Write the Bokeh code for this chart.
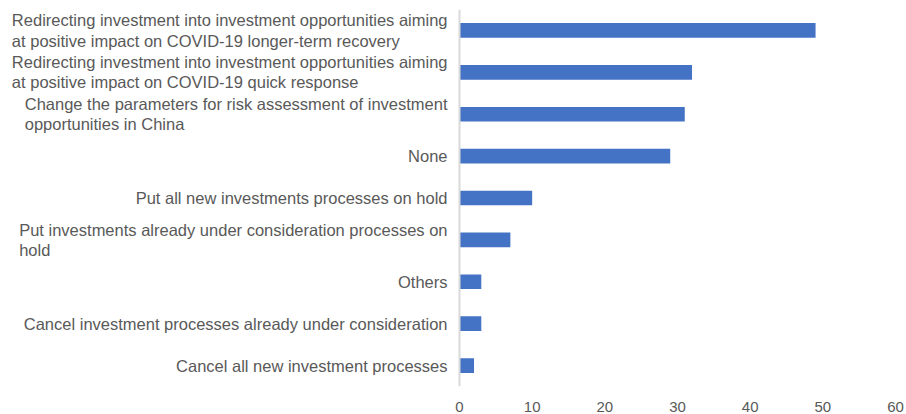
from bokeh.plotting import figure
from bokeh.models import ColumnDataSource, FixedTicker, Label, Span
from bokeh.embed import file_html
from bokeh.resources import INLINE

categories = [
    "Redirecting investment into investment opportunities aiming\nat positive impact on COVID-19 longer-term recovery",
    "Redirecting investment into investment opportunities aiming\nat positive impact on COVID-19 quick response",
    "Change the parameters for risk assessment of investment\nopportunities in China",
    "None",
    "Put all new investments processes on hold",
    "Put investments already under consideration processes on\nhold",
    "Others",
    "Cancel investment processes already under consideration",
    "Cancel all new investment processes",
]
values = [49, 32, 31, 29, 10, 7, 3, 3, 2]
x_ticks = [0, 10, 20, 30, 40, 50, 60]

source = ColumnDataSource(data=dict(cat=categories, val=values))

# the frame also holds the category labels on its left, so the x range
# starts below zero (0 falls at 459 px of an 895 px wide frame)
x_max = 60
x_min = -459 * x_max / (895 - 459)

p = figure(
    y_range=list(reversed(categories)),
    x_range=(x_min, x_max),
    width=906, height=414,
    output_backend="svg", toolbar_location=None,
    min_border_left=0, min_border_right=11, min_border_top=9, min_border_bottom=0,
)
p.hbar(y="cat", right="val", left=0, height=0.35, source=source,
       fill_color="#4472C4", line_color=None)

p.outline_line_color = None
p.grid.visible = False
p.yaxis.visible = False

p.add_layout(Span(location=0, dimension="height", line_color="#d9d9d9", line_width=2))

n = len(categories)
for i, cat in enumerate(categories):
    # synthetic categorical coordinate of the factor's centre
    p.add_layout(Label(
        x=0, y=n - i - 0.5, text=cat, x_offset=-12, anchor="center_right",
        text_align="left", text_font="Liberation Sans", text_font_size="16.5px",
        text_color="#595959", text_line_height=1.12,
    ))

xax = p.xaxis[0]
xax.ticker = FixedTicker(ticks=x_ticks)
xax.axis_line_color = None
xax.major_tick_line_color = None
xax.minor_tick_line_color = None
xax.major_label_text_font = "Liberation Sans"
xax.major_label_text_font_size = "15px"
xax.major_label_text_color = "#595959"
xax.major_label_standoff = 9

open("out.html", "w").write(file_html(p, INLINE))
